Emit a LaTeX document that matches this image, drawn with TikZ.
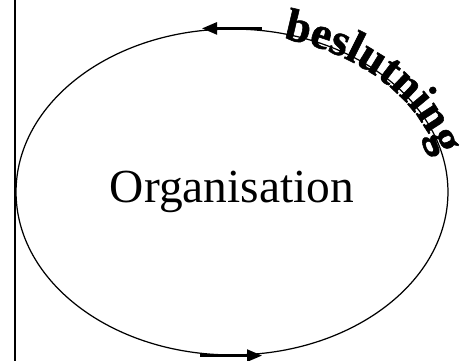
\documentclass[tikz,border=0pt]{standalone}
\usepackage{fontspec}
\setmainfont{Liberation Serif}
\newfontfamily\beslfam{Liberation Serif}[FakeBold=1.2]
\usetikzlibrary{shapes.geometric,arrows.meta,decorations.text,calc}

\tikzset{
  orgnode/.style={ellipse, draw, line width=0.7pt, inner sep=0pt,
    minimum width=8.64cm, minimum height=6.52cm,
    font=\fontsize{27}{30}\selectfont},
  flow/.style={line width=1.4pt, -{Triangle[length=0.3cm, width=0.24cm]}},
}
\newcommand{\beslfont}{\beslfam\bfseries\fontsize{26}{29}\selectfont}

\begin{document}
\begin{tikzpicture}[x=0.02cm, y=0.02cm]
  \useasboundingbox (0,0) rectangle (463,361);
  \draw[line width=0.7pt] (15,0) -- (15,361);
  \node[orgnode] (org) at (232,169) {Organisation};
  % flow arrows on the ellipse
  \coordinate (topR) at ($(org.north)+(30,0)$);
  \coordinate (topL) at ($(org.north)+(-30,0)$);
  \coordinate (botL) at ($(org.south)+(-32,0)$);
  \coordinate (botR) at ($(org.south)+(30,0)$);
  \draw[flow] (topR) -- (topL);
  \draw[flow] (botL) -- (botR);
  % label bent along the upper right rim, baseline just inside it
  \path[decorate, decoration={text along path, text={|\beslfont|beslutning}}]
    ($(org.center)+(76:211 and 158)$)
    arc[start angle=76, end angle=0, x radius=211, y radius=158];
\end{tikzpicture}
\end{document}
